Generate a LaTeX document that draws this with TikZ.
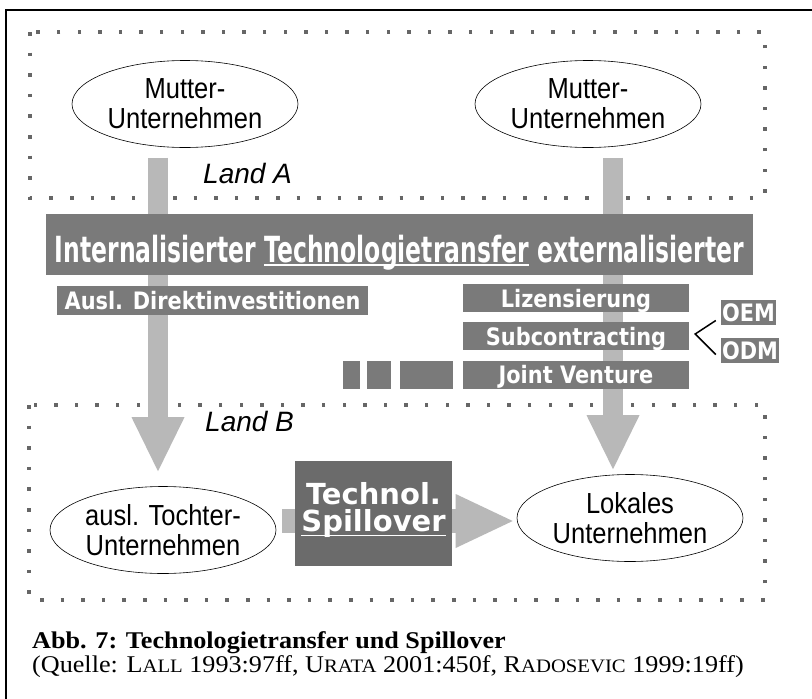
\documentclass[tikz,border=0pt]{standalone}
\usepackage{fontspec}
\usetikzlibrary{shapes.geometric,arrows.meta,calc}
\setmainfont{Liberation Serif}
\newfontfamily\ellfont[FakeStretch=0.88]{Liberation Sans}
\newfontfamily\landfont{Liberation Sans}
\newfontfamily\boxfont[FakeStretch=0.87]{DejaVu Sans Bold}
\newfontfamily\bannerfont[FakeStretch=0.653]{DejaVu Sans Bold}
\newfontfamily\spillfont{DejaVu Sans Bold}
\newfontfamily\captfont[FakeStretch=1.09]{Liberation Serif}
\newfontfamily\captbold[FakeStretch=1.09]{Liberation Serif Bold}
\newcommand\myul[2][-3.5pt]{\setbox0\hbox{#2}\rlap{\rule[#1]{\wd0}{1.5pt}}\box0\relax}
\newcommand\fsc[2]{#1{\fontsize{19}{20}\selectfont #2}}
\definecolor{bannergray}{gray}{0.48}
\definecolor{boxgray}{gray}{0.48}
\definecolor{stemgray}{gray}{0.72}
\definecolor{spillgray}{gray}{0.42}
\definecolor{dotgray}{gray}{0.4}
\tikzset{
  dotbox/.style={draw=dotgray, line width=3.5pt, dash pattern=on 3.5pt off 17.1pt},
  ell/.style={ellipse, draw, fill=white, line width=0.6pt, minimum width=226pt, minimum height=87pt,
    inner sep=0pt, align=center, font=\ellfont\fontsize{29}{30}\selectfont},
  landlbl/.style={anchor=base west, inner sep=0pt, font=\landfont\itshape\fontsize{28}{30}\selectfont},
  bigarrow/.style={draw=stemgray, line width=20pt,
    -{Triangle[width=53pt,length=54pt,line width=0pt]}},
  spillarrow/.style={draw=stemgray, line width=24pt,
    -{Triangle[width=54pt,length=57pt,line width=0pt]}},
  graybox/.style={fill=boxgray, text=white, inner sep=0pt, text height=18pt, text depth=0pt,
    font=\boxfont\fontsize{24}{24}\selectfont},
  captline/.style={anchor=base west, inner sep=0pt}
}
\begin{document}
\begin{tikzpicture}[x=1pt,y=-1pt]
\useasboundingbox (0,0) rectangle (812,699);
\fill[white] (0,0) rectangle (812,699);
% outer frame
\draw[line width=1.2pt] (6,699) -- (6,10) -- (812,10);
% dotted country boxes
\draw[dotbox] (30,32) rectangle (765,198);
\draw[dotbox] (29,405) rectangle (765,600);
% ellipses
\node[ell] (m1) at (185,104) {Mutter-\\Unternehmen};
\node[ell] (m2) at (588,104) {Mutter-\\Unternehmen};
\node[ell] (t1) at (163,530) {ausl. Tochter-\\Unternehmen};
\node[ell] (lok) at (630,518) {Lokales\\Unternehmen};
% labels
\node[landlbl] (la) at (203,183) {Land A};
\node[landlbl] (lb) at (205,431) {Land B};
% big arrows
\draw[bigarrow] ($(m1.south)+(-27,10)$) -- ($(t1.north)+(-5,-15)$);
\draw[bigarrow] ($(m2.south)+(25,10)$) -- ($(lok.north)+(-17,-5)$);
\draw[spillarrow] ($(t1.east)+(6,-9)$) -- ($(lok.west)+(-4,3)$);
% banner
\node[fill=bannergray, text=white, minimum width=707pt, minimum height=61pt, inner sep=0pt,
  text height=35pt, text depth=0pt, font=\bannerfont\fontsize{36}{36}\selectfont]
  (ban) at (399.5,244.5) {Internalisierter \myul{Technologietransfer} externalisierter};
% boxes
\node[graybox, minimum width=311pt, minimum height=29pt] (ausl) at (212.5,300.5) {Ausl. Direktinvestitionen};
\node[graybox, minimum width=226pt, minimum height=28pt] (liz) at (576,298) {Lizensierung};
\node[graybox, minimum width=226pt, minimum height=28pt] (sub) at (576,336) {Subcontracting};
\node[graybox, minimum width=226pt, minimum height=28pt] (jv) at (576,374.5) {Joint Venture};
\node[graybox, minimum width=55pt, minimum height=25pt] (oem) at (748.5,312.5) {OEM};
\node[graybox, minimum width=58pt, minimum height=25pt] (odm) at (750,350.5) {ODM};
\fill[boxgray] (343,361) rectangle (360,389);
\fill[boxgray] (367,361) rectangle (391,389);
\fill[boxgray] (400,361) rectangle (453,389);
% bracket
\draw[line width=1.5pt] ($(oem.west)+(-5,8)$) -- ($(sub.east)+(6,-2)$) -- ($(odm.west)+(-5,4)$);
% spillover box
\node[fill=spillgray, text=white, minimum width=157pt, minimum height=105pt, inner sep=0pt,
  align=center, text height=48pt, text depth=13pt,
  font=\spillfont\fontsize{29}{27}\selectfont]
  (spill) at (373.5,513.5) {Technol.\\\myul[-5pt]{Spillover}};
% caption
\node[captline, font=\captbold\fontsize{24}{26}\selectfont] (cap1) at (32,648)
  {Abb. 7: Technologietransfer und Spillover};
\node[captline, font=\captfont\fontsize{24}{26}\selectfont] (cap2) at (32,672)
  {(Quelle: \fsc{L}{ALL} 1993:97ff, \fsc{U}{RATA} 2001:450f, \fsc{R}{ADOSEVIC} 1999:19ff)};
\end{tikzpicture}
\end{document}
